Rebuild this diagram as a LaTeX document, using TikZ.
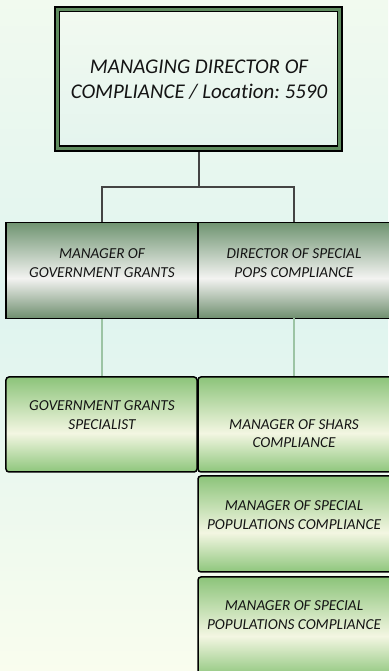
\documentclass[tikz,border=0pt]{standalone}
\usepackage{fontspec}
\setmainfont{Carlito}[Ligatures=NoCommon]
\frenchspacing
\definecolor{bgtop}{HTML}{F1FAEF}
\definecolor{bgmid}{HTML}{DFF4EF}
\definecolor{bgbot}{HTML}{F9FDEE}
\definecolor{topgreen}{HTML}{5F8C5F}
\definecolor{tbtop}{HTML}{F2FAF0}
\definecolor{tbbot}{HTML}{E4F4EE}
\definecolor{mgtop}{HTML}{6F9471}
\definecolor{mgwhite}{HTML}{F3F3F1}
\definecolor{mgbot}{HTML}{6E8E6E}
\definecolor{bgrtop}{HTML}{8CC47A}
\definecolor{bgrwhite}{HTML}{F3F6E2}
\definecolor{bgrbot}{HTML}{8EC67C}
\definecolor{connA}{HTML}{444444}
\definecolor{connB}{HTML}{9CC4A4}
\definecolor{txtcol}{HTML}{141414}
\pgfdeclareverticalshading{bgshade}{100bp}{color(0bp)=(bgbot); color(25bp)=(bgbot); color(52bp)=(bgmid); color(75bp)=(bgtop); color(100bp)=(bgtop)}
\pgfdeclareverticalshading{midshade}{100bp}{color(0bp)=(mgbot); color(25bp)=(mgbot); color(46bp)=(mgwhite); color(75bp)=(mgtop); color(100bp)=(mgtop)}
\pgfdeclareverticalshading{lowshade}{100bp}{color(0bp)=(bgrbot); color(25bp)=(bgrbot); color(45.5bp)=(bgrwhite); color(75bp)=(bgrtop); color(100bp)=(bgrtop)}
\pgfdeclareverticalshading{topshade}{100bp}{color(0bp)=(tbbot); color(25bp)=(tbbot); color(75bp)=(tbtop); color(100bp)=(tbtop)}
\begin{document}
\begin{tikzpicture}[x=1bp,y=1bp,
  topbox/.style={rectangle, shading=topshade, draw=black, line width=1.75bp,
    double=topgreen, double distance=3bp, outer sep=3.25bp,
    minimum width=282.5bp, minimum height=139.5bp, inner sep=0pt},
  midbox/.style={rectangle, shading=midshade, draw=black, line width=1.5bp,
    minimum height=96bp, inner sep=0pt},
  lowbox/.style={rectangle, shading=lowshade, draw=black, line width=1.5bp,
    rounded corners=3bp, minimum height=95bp, inner sep=0pt},
  bigtxt/.style={align=center, text=txtcol, inner sep=0pt,
    font=\fontsize{21}{25}\selectfont\itshape},
  smalltxt/.style={align=center, text=txtcol, inner sep=0pt,
    font=\fontsize{15.3}{18.5}\selectfont\itshape},
  connup/.style={draw=connA, line width=1.3bp},
  conndown/.style={draw=connB, line width=1.3bp}]
\useasboundingbox (0,0) rectangle (388,671);
\shade[shading=bgshade] (0,0) rectangle (388,671);

% top
\node[topbox] (top) at (198.5,592) {};
\node[bigtxt] (toptxt) at (199,591) {MANAGING DIRECTOR OF\\COMPLIANCE / Location: 5590};

% middle row
\node[midbox, minimum width=192bp] (m1) at (102,400.5) {};
\node[midbox, minimum width=200bp] (m2) at (298,400.5) {};
\node[smalltxt] (m1txt) at (102,408) {MANAGER OF\\GOVERNMENT GRANTS};
\node[smalltxt] (m2txt) at (294,408) {DIRECTOR OF SPECIAL\\POPS COMPLIANCE};

% bottom rows
\node[lowbox, minimum width=191bp] (b1) at (101.5,246.5) {};
\node[lowbox, minimum width=200bp] (b2) at (298,246.5) {};
\node[lowbox, minimum width=200bp, minimum height=96bp] (b3) at (298,147) {};
\node[lowbox, minimum width=200bp, minimum height=100bp] (b4) at (298,44) {};
\node[smalltxt] (b1txt) at (102,256) {GOVERNMENT GRANTS\\SPECIALIST};
\node[smalltxt] (b2txt) at (294,237.5) {MANAGER OF SHARS\\COMPLIANCE};
\node[smalltxt] (b3txt) at (294,156) {MANAGER OF SPECIAL\\POPULATIONS COMPLIANCE};
\node[smalltxt] (b4txt) at (294,56) {MANAGER OF SPECIAL\\POPULATIONS COMPLIANCE};

% connectors
\coordinate (j) at (199,484);
\coordinate (m2top) at (294,448.5);
\coordinate (m2bot) at (294,352.5);
\draw[connup] (top.south -| j) -- (j);
\draw[connup] (m1.north) -- (m1.north |- j) -- (m2top |- j) -- (m2top);
\draw[conndown] (m1.south) -- (m1.south |- b1.north);
\draw[conndown] (m2bot) -- (m2bot |- b2.north);
\end{tikzpicture}
\end{document}
